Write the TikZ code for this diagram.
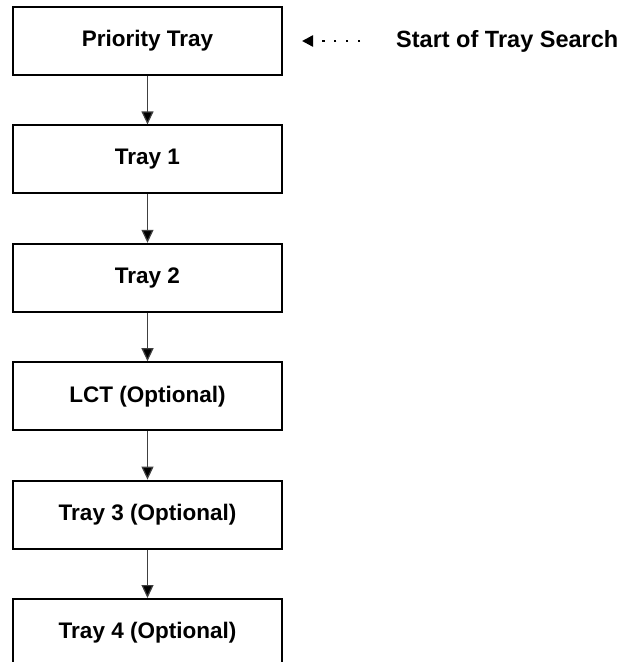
\documentclass[tikz,border=0pt]{standalone}
\usepackage{fontspec}
\setmainfont{Liberation Sans}
\usetikzlibrary{arrows.meta}
\begin{document}
\begin{tikzpicture}[x=1pt,y=-1pt,
  trbox/.style={draw=black, line width=2pt, minimum width=269pt, minimum height=68pt, inner sep=0pt, font=\fontsize{22.5}{26}\selectfont\bfseries, text=black},
  flow/.style={draw=black!75, line width=1.2pt, -{Triangle[length=13pt,width=12pt,fill=black]}},
  dotarrow/.style={draw=black, line width=2.4pt, dash pattern=on 2.5pt off 9.3pt, -{Triangle[length=11pt,width=11pt,fill=black]}},
  lbl/.style={inner sep=0pt, anchor=west, font=\fontsize{23.5}{26}\selectfont\bfseries, text=black}]
\useasboundingbox (0,0) rectangle (621,662);
\node[trbox] (p0) at (147.5,41) {Priority Tray};
\node[trbox] (t1) at (147.5,159.4) {Tray 1};
\node[trbox] (t2) at (147.5,277.8) {Tray 2};
\node[trbox] (lct) at (147.5,396.2) {LCT (Optional)};
\node[trbox] (t3) at (147.5,514.6) {Tray 3 (Optional)};
\node[trbox] (t4) at (147.5,633) {Tray 4 (Optional)};
\node[lbl] (start) at (396,41) {Start of Tray Search};
\draw[flow] (p0) -- (t1);
\draw[flow] (t1) -- (t2);
\draw[flow] (t2) -- (lct);
\draw[flow] (lct) -- (t3);
\draw[flow] (t3) -- (t4);
\draw[dotarrow, shorten <=36pt, shorten >=19pt] (start.west) -- (p0.east);
\end{tikzpicture}
\end{document}
